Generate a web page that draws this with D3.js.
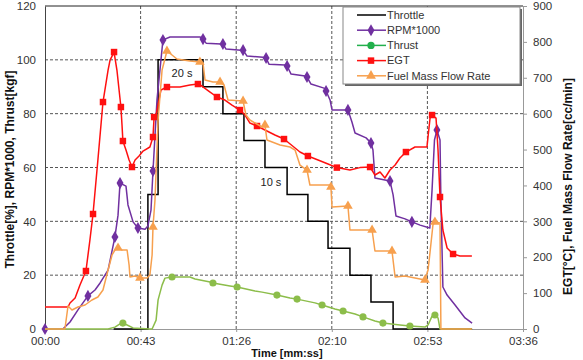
<!DOCTYPE html>
<html>
<head>
<meta charset="utf-8">
<script src="https://cdn.jsdelivr.net/npm/d3@7"></script>
<style>
  body { margin: 0; background: #fff; }
  text { font-family: "Liberation Sans", Arial, sans-serif; }
</style>
</head>
<body>
<div id="here"></div>
<script>
// DATA (time in seconds; left axis values for throttle/rpm/thrust, right axis for EGT/fuel)
const timeTicks = [0, 43.2, 86.4, 129.6, 172.8, 216];
const leftTicks = [0, 20, 40, 60, 80, 100, 120];
const rightTicks = [0, 100, 200, 300, 400, 500, 600, 700, 800, 900];

const throttleT = [31, 46.5, 51.1, 71.4, 80.4, 89.9, 99.4, 109.4, 118.8, 127.9, 137.8, 147.3, 157.3, 193];
const throttleV = [0, 50, 100, 90, 80, 70, 60, 50, 40, 30, 20, 10, 0, 0];

const rpmLine = [[0,0],[8.1,0],[11.3,2.6],[14.9,7.1],[19.4,12.3],[22.6,14.5],[24.9,17.1],[28.5,21.9],[31.6,34.2],[33.0,42.3],[33.9,54.2],[36.6,53.1],[37.5,46.1],[39.8,39.8],[42.0,37.5],[45.2,37.1],[46.5,38.3],[47.9,44.2],[48.8,58.7],[50.6,85.1],[53.3,107.4],[56.5,108.5],[70.0,108.5],[71.4,107.7],[72.8,106.2],[79.5,105.9],[80.4,105.9],[81.8,104.0],[88.6,103.6],[89.5,103.6],[91.3,101.4],[98.5,101.0],[99.9,100.7],[101.2,98.4],[108.5,98.1],[109.4,97.7],[111.2,94.7],[117.5,94.0],[118.4,93.6],[120.2,91.0],[126.1,89.5],[127.0,88.4],[128.8,85.1],[129.7,81.4],[136.9,81.4],[138.7,76.9],[140.1,72.8],[145.1,71.0],[147.3,69.1],[148.2,66.5],[149.1,56.1],[155.9,55.0],[157.3,49.8],[158.6,42.0],[162.7,40.9],[165.8,39.8],[169.5,38.6],[173.9,37.5],[174.9,51.6],[176.0,70.2],[177.1,73.9],[178.5,70.2],[178.9,47.9],[179.8,15.6],[181.7,12.6],[185.3,8.9],[189.8,4.1],[193.0,2.2]];
const rpmMarks = [[0,0],[19.4,12.3],[31.6,34.2],[33.9,54.2],[42.0,37.5],[48.8,58.7],[53.3,107.4],[71.4,107.7],[80.4,105.9],[89.5,103.6],[99.9,100.7],[109.4,97.7],[118.4,93.6],[127.0,88.4],[136.9,81.4],[147.3,69.1],[155.9,55.0],[165.8,39.8],[177.1,73.9]];

const thrustLine = [[0,0],[28.5,0],[31.6,0.7],[33.9,1.9],[35.2,2.2],[37.1,1.5],[39.8,0.4],[47.4,0],[48.4,0],[50.2,3.3],[51.1,10.8],[52.9,16.3],[54.2,18.9],[57.4,19.3],[65.5,19.3],[67.8,18.6],[74.6,17.5],[75.9,17.1],[83.6,16.0],[86.8,15.6],[94.9,14.1],[98.1,13.7],[104.8,12.6],[110.7,11.5],[113.9,11.1],[122.0,9.7],[125.2,8.9],[131.0,7.4],[134.7,6.7],[140.1,5.6],[143.7,4.5],[149.1,3.0],[152.7,2.2],[160.4,1.5],[164.9,1.1],[171.7,0.7],[173.1,1.5],[174.9,4.8],[176.2,5.2],[177.6,4.1],[178.5,0],[192.9,0]];
const thrustMarks = [[35.2,2.2],[57.4,19.3],[75.9,17.1],[86.8,15.6],[104.8,12.6],[113.9,11.1],[125.2,8.9],[134.7,6.7],[143.7,4.5],[152.7,2.2],[164.9,1.1],[176.2,5.2]];

const egtLine = [[0,61.3],[10.4,61.3],[11.3,72.4],[13.6,86.4],[15.8,122.6],[18.5,161.6],[20.3,248.0],[21.7,320.4],[23.9,470.8],[26.2,632.4],[28.5,721.6],[29.4,749.4],[31.2,771.7],[32.5,721.6],[34.3,618.5],[34.8,568.3],[35.2,523.8],[36.6,498.7],[38.0,470.8],[39.3,451.3],[40.7,470.8],[42.5,482.0],[44.3,495.9],[47.4,507.1],[48.8,534.9],[49.3,590.6],[50.2,596.2],[51.5,638.0],[52.4,665.9],[55.1,674.2],[61.0,674.2],[65.5,679.8],[69.1,682.6],[70.9,677.0],[74.6,660.3],[77.7,646.4],[81.3,638.0],[84.5,624.1],[88.1,610.1],[90.4,596.2],[92.6,573.9],[95.8,565.6],[99.4,554.4],[103.9,540.5],[108.0,529.3],[113.0,504.3],[115.2,493.1],[118.8,482.0],[123.4,470.8],[127.9,459.7],[131.9,449.7],[137.8,443.0],[142.3,449.7],[146.9,451.3],[149.1,429.1],[151.4,437.4],[153.6,420.7],[155.9,443.0],[158.2,456.9],[160.4,476.4],[163.1,493.1],[167.2,507.1],[172.6,507.1],[174.0,587.8],[174.9,596.2],[176.7,587.8],[177.6,498.7],[178.5,367.8],[179.8,275.8],[181.7,225.7],[184.4,209.0],[187.5,203.4],[192.9,203.4]];
const egtMarks = [[18.5,161.6],[21.7,320.4],[26.2,632.4],[31.2,771.7],[34.3,618.5],[35.2,523.8],[39.3,451.3],[48.8,534.9],[49.3,590.6],[55.1,674.2],[69.1,682.6],[77.7,646.4],[88.1,610.1],[95.8,565.6],[108.0,529.3],[118.8,482.0],[131.9,449.7],[146.9,451.3],[163.1,493.1],[174.9,596.2],[178.5,367.8],[184.4,209.0]];

const fuelLine = [[0,0],[9.0,0],[10.4,64.1],[12.2,52.9],[14.9,61.3],[18.1,66.9],[21.2,80.8],[23.9,89.2],[26.2,108.7],[28.5,164.4],[30.3,206.2],[31.6,220.1],[33.0,225.7],[34.8,220.1],[37.1,220.1],[38.0,178.3],[38.4,144.9],[40.7,147.7],[42.9,142.1],[46.1,142.1],[47.4,150.5],[48.4,206.2],[48.8,284.2],[49.7,359.4],[51.1,582.3],[52.9,721.6],[55.1,774.6],[57.4,763.4],[59.6,752.3],[65.5,746.7],[70.0,743.9],[71.4,741.1],[72.3,693.8],[75.9,688.2],[79.1,688.2],[80.9,679.8],[82.7,638.0],[89.5,635.3],[90.8,596.2],[92.6,582.3],[98.1,562.8],[99.4,568.3],[100.3,526.6],[106.2,512.6],[110.7,507.1],[113.0,498.7],[115.2,456.9],[118.4,443.0],[119.7,401.2],[128.8,401.2],[129.2,395.6],[129.7,339.9],[136.9,342.7],[137.8,275.8],[147.8,275.8],[149.1,217.3],[156.8,217.3],[158.2,144.9],[162.7,147.7],[167.2,142.1],[171.7,136.5],[173.1,164.4],[174.0,214.5],[175.3,289.7],[176.2,298.1],[178.5,295.3],[178.9,0],[192.9,0]];
const fuelMarks = [[33.0,225.7],[42.9,142.1],[48.8,284.2],[55.1,774.6],[70.0,743.9],[79.1,688.2],[89.5,635.3],[99.4,568.3],[118.4,443.0],[129.2,395.6],[136.9,342.7],[147.8,275.8],[156.8,217.3],[171.7,136.5],[176.2,298.1]];

const legendNames = ["Throttle", "RPM*1000", "Thrust", "EGT", "Fuel Mass Flow Rate"];
const notes = [{t: 61.9, v: 95.1, label: "20 s"}, {t: 102.1, v: 54.6, label: "10 s"}];

// LAYOUT
const width = 583, height = 360;
const margin = {top: 6, right: 60, bottom: 31, left: 45};

const svg = d3.select("#here").append("svg")
  .attr("width", width).attr("height", height);

const x = d3.scaleLinear().domain([0, 216]).range([margin.left, width - margin.right]);
const yL = d3.scaleLinear().domain([0, 120]).range([height - margin.bottom, margin.top]);
const yR = d3.scaleLinear().domain([0, 900]).range([height - margin.bottom, margin.top]);

const fmtTime = function(s){
  const r = Math.round(s);
  return String(Math.floor(r / 60)).padStart(2, "0") + ":" + String(r % 60).padStart(2, "0");
};

// grid
svg.append("g").selectAll("line").data(leftTicks.slice(1, -1)).join("line")
  .attr("x1", x(0)).attr("x2", x(216))
  .attr("y1", d => yL(d)).attr("y2", d => yL(d))
  .attr("stroke", "#555").attr("stroke-dasharray", "3,2");
svg.append("g").selectAll("line").data(timeTicks.slice(1, -1)).join("line")
  .attr("x1", d => x(d)).attr("x2", d => x(d))
  .attr("y1", yL(0)).attr("y2", yL(120))
  .attr("stroke", "#555").attr("stroke-dasharray", "3,2");

// top border
svg.append("line").attr("x1", x(0)).attr("x2", x(216)).attr("y1", yL(120)).attr("y2", yL(120))
  .attr("stroke", "#222");

// axes
const styleAxis = function(g, col){
  g.select(".domain").attr("stroke", col);
  g.selectAll(".tick line").attr("stroke", col);
  g.selectAll(".tick text").attr("fill", "#333").style("font-size", "11.5px")
    .style("font-family", "Liberation Sans, Arial, sans-serif");
};
svg.append("g").attr("transform", `translate(${margin.left},0)`)
  .call(d3.axisLeft(yL).tickValues(leftTicks).tickSize(0).tickPadding(9).tickSizeOuter(0))
  .call(g => styleAxis(g, "#444"));
svg.append("g").attr("transform", `translate(${x(216)},0)`)
  .call(d3.axisRight(yR).tickValues(rightTicks).tickSize(4).tickPadding(6).tickSizeOuter(0))
  .call(g => styleAxis(g, "#999"));
svg.append("g").attr("transform", `translate(0,${yL(0)})`)
  .call(d3.axisBottom(x).tickValues(timeTicks).tickFormat(fmtTime).tickSize(3).tickPadding(5).tickSizeOuter(0))
  .call(g => styleAxis(g, "#999"));

// axis titles
svg.append("text").attr("transform", `translate(14,${(yL(0) + yL(120)) / 2 + 2}) rotate(-90)`)
  .attr("text-anchor", "middle").style("font-size", "12px").style("font-weight", "bold")
  .attr("fill", "#111").text("Throttle[%], RPM*1000, Thrust[kgf]");
svg.append("text").attr("transform", `translate(572,${(yL(0) + yL(120)) / 2 + 19}) rotate(-90)`)
  .attr("text-anchor", "middle").style("font-size", "12px").style("font-weight", "bold")
  .attr("fill", "#111").text("EGT[°C], Fuel Mass Flow Rate[cc/min]");
svg.append("text").attr("x", 287).attr("y", 357)
  .attr("text-anchor", "middle").style("font-size", "11px").style("font-weight", "bold")
  .attr("fill", "#111").text("Time [mm:ss]");

// series
const lineL = d3.line().x(d => x(d[0])).y(d => yL(d[1]));
const lineR = d3.line().x(d => x(d[0])).y(d => yR(d[1]));
const throttleData = throttleT.map((t, i) => [t, throttleV[i]]);

const colors = {throttle: "#000000", rpm: "#7030a0", thrust: "#8cbd4a", egt: "#ff1010", fuel: "#f7a04e"};

svg.append("path").datum(throttleData)
  .attr("d", lineL.curve(d3.curveStepAfter)).attr("fill", "none")
  .attr("stroke", colors.throttle).attr("stroke-width", 1.5);
lineL.curve(d3.curveLinear);

const drawSeries = function(data, marks, line, col, symbol, size){
  svg.append("path").datum(data).attr("d", line).attr("fill", "none")
    .attr("stroke", col).attr("stroke-width", 1.5).attr("stroke-linejoin", "round");
  svg.append("g").selectAll("path").data(marks).join("path")
    .attr("transform", d => `translate(${x(d[0])},${line.y()(d)})`)
    .attr("d", d3.symbol().type(symbol).size(size))
    .attr("fill", col);
};
drawSeries(rpmLine, rpmMarks, lineL, colors.rpm, d3.symbolDiamond, 42);
drawSeries(thrustLine, thrustMarks, lineL, colors.thrust, d3.symbolCircle, 40);
drawSeries(egtLine, egtMarks, lineR, colors.egt, d3.symbolSquare, 42);
drawSeries(fuelLine, fuelMarks, lineR, colors.fuel, d3.symbolTriangle, 40);

// annotations
notes.forEach(function(n){
  const g = svg.append("g").attr("transform", `translate(${x(n.t)},${yL(n.v)})`);
  g.append("rect").attr("x", -12).attr("y", -8).attr("width", 24).attr("height", 15).attr("fill", "#fff");
  g.append("text").attr("text-anchor", "middle").attr("dy", "0.35em")
    .style("font-size", "11px").attr("fill", "#222").text(n.label);
});

// legend
const legend = svg.append("g").attr("transform", "translate(343,7)");
legend.append("rect").attr("x", 2).attr("y", 2).attr("width", 177).attr("height", 77).attr("fill", "#666");
legend.append("rect").attr("width", 177).attr("height", 77).attr("fill", "#fff").attr("stroke", "#888");
const legCols = [colors.throttle, colors.rpm, "#22b04c", colors.egt, colors.fuel];
const legSym = [null, d3.symbolDiamond, d3.symbolCircle, d3.symbolSquare, d3.symbolTriangle];
legendNames.forEach(function(name, i){
  const yy = 8 + i * 15.2;
  legend.append("line").attr("x1", 14).attr("x2", 43).attr("y1", yy).attr("y2", yy)
    .attr("stroke", legCols[i]).attr("stroke-width", 1.5);
  if (legSym[i]) {
    legend.append("path").attr("transform", `translate(28,${yy})`)
      .attr("d", d3.symbol().type(legSym[i]).size(42)).attr("fill", legCols[i]);
  }
  legend.append("text").attr("x", 44).attr("y", yy).attr("dy", "0.35em")
    .style("font-size", "11px").attr("fill", "#333").text(name);
});
</script>
</body>
</html>
